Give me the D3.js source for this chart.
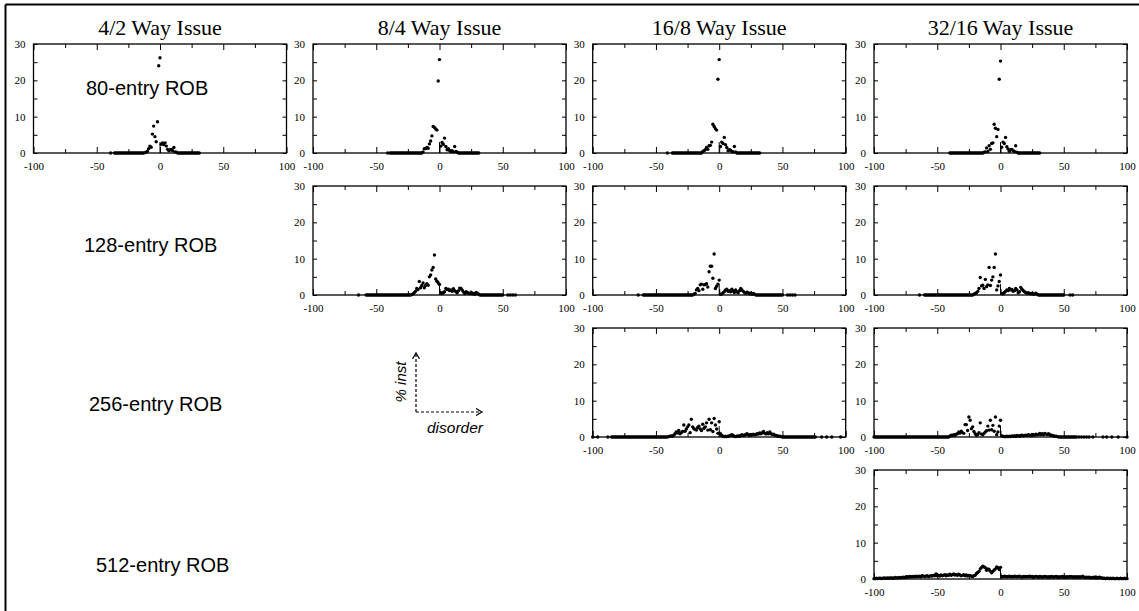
<!DOCTYPE html>
<html><head><meta charset="utf-8">
<script src="https://cdn.jsdelivr.net/npm/d3@7"></script>
<style>body{margin:0;background:#fff} svg{display:block}</style>
</head><body>
<svg id="c" width="1139" height="611"></svg>
<script>
// ---------- labels / ticks ----------
const titles = ["4/2 Way Issue", "8/4 Way Issue", "16/8 Way Issue", "32/16 Way Issue"];
const robLabels = ["80-entry ROB", "128-entry ROB", "256-entry ROB", "512-entry ROB"];
const xTicks = [-100, -75, -50, -25, 0, 25, 50, 75, 100];
const xLabels = [-100, -50, 0, 50, 100];
const yTicks = [0, 5, 10, 15, 20, 25, 30];
const yLabels = [0, 10, 20, 30];
const axisNote = ["% inst", "disorder"];

// ---------- data: % of instructions per disorder value (consecutive integers from start) ----------
const r1c1Start = -39;
const r1c1 = [0, null, null,
  0,0,0,0,0,0,0,0,0,0, 0,0,0,0,0,0,0,0,0,0, 0,0,0,0,0.1,
  0.2,0.5,1.2,1.9,1.6,5.2,7.4,4.5,3.1,8.6,
  24.0,26.2,
  2.4,2.8,2.3,2.8,1.9,1.0,0.6,0.9,1.0,0.6,
  1.5,0.3,0.2,
  0,0,0,0,0,0,0,0,0,0, 0,0,0,0,0,0,0,0];

const r1c2Start = -41;
const r1c2 = [0, null,
  0,0,0,0,0,0,0,0,0,0, 0,0,0,0,0,0,0,0,0,0, 0,0,0,0,0,0,
  0.3,1.2,1.2,1.5,1.3,2.5,3.3,4.7,7.3,7.0,6.6,6.3,
  19.8,25.7,
  1.9,2.9,2.4,4.1,1.8,0.9,1.2,0.7,0.4,0.6,
  0.3,1.8,0.4,0.2,
  0,0,0,0,0,0,0,0,0,0, 0,0,0,0,0,0,0];

const r1c3Start = -41;
const r1c3 = [0, null, null, null,
  0,0,0,0,0,0,0,0,0,0, 0,0,0,0,0,0,0,0,0,0, 0,0,0,0,
  0.4,0.6,0.9,1.5,1.0,2.0,2.1,3.0,7.9,7.3,6.7,6.3,
  20.3,25.7,
  1.8,3.0,2.6,4.3,2.3,1.5,0.6,0.9,0.8,0.4,
  0.3,1.8,0.3,
  0,0,0,0,0,0,0,0,0,0, 0,0,0,0,0,0,0,0,0];

const r1c4Start = -40;
const r1c4 = [
  0,0,0,0,0,0,0,0,0,0, 0,0,0,0,0,0,0,0,0,0, 0,0,0,0,0,0,0,
  0.2,0.3,1.4,0.4,2.0,1.0,2.6,2.8,7.9,6.8,4.5,6.5,
  20.3,25.3,
  1.6,3.0,2.6,4.3,1.7,1.1,0.5,0.9,1.0,0.6,
  0.4,2.0,0.2,
  0,0,0,0,0,0,0,0,0,0, 0,0,0,0,0,0,0,0];

const r2c2Start = -64;
const r2c2 = [0, null, null, null, null, null,
  0,0,0,0,0,0,0,0,0,0, 0,0,0,0,0,0,0,0,0,0, 0,0,0,0,0,0,0,0,0,0, 0,0,0,0,0,0,
  0.1,0.3,0.6,1.0,1.8,1.5,3.7,2.0,2.6,3.3,2.0,2.6,3.1,2.7,5.0,5.5,6.9,7.6,11.0,4.4,3.8,3.3,
  2.9,
  0.6,0.5,0.6,0.9,1.8,1.5,1.6,1.2,1.4,1.0,
  1.7,1.2,0.9,0.6,1.2,1.9,1.8,1.3,0.8,0.4,
  0.9,0.7,0.5,0.4,0.8,0.3,0.4,0.2,0.7,0.5,
  0.2,
  0,0,0,0,0,0,0,0,0,0, 0,0,0,0,0,0,0,0,0,
  null, null, null, 0, null, 0, null, 0, null, 0];

const r2c3Start = -64;
const r2c3 = [0, null, null, null,
  0,0,0,0,0,0,0,0,0,0, 0,0,0,0,0,0,0,0,0,0, 0,0,0,0,0,0,0,0,0,0, 0,0,0,0,0,0,0,0,0,0,
  0.2,0.4,1.4,1.8,1.2,2.8,3.0,1.6,2.8,2.9,3.1,2.2,6.4,7.9,7.9,4.6,11.3,1.8,2.4,3.0,
  4.1,
  0.2,0.3,0.6,0.9,1.4,1.6,1.0,1.2,0.9,1.6,
  1.1,0.7,1.4,0.9,0.6,1.2,1.8,1.4,1.0,0.7,
  0.5,0.8,0.6,0.3,0.5,0.2,0.4,0.2,
  0,0,0,0,0,0,0,0,0,0, 0,0,0,0,0,0,0,0,0,0, 0,0,
  null, null, null, 0, null, 0, null, 0, null, 0];

const r2c4Start = -64;
const r2c4 = [0, null, null, null,
  0,0,0,0,0,0,0,0,0,0, 0,0,0,0,0,0,0,0,0,0, 0,0,0,0,0,0,0,0,0,0, 0,0,0,0,0,0,0,0,0,
  0.2,0.4,0.6,1.0,1.8,4.8,2.5,2.7,1.8,4.3,2.3,2.8,7.6,2.6,4.1,5.0,7.6,11.3,1.4,2.5,3.7,
  5.5,
  0.5,0.3,0.6,1.0,1.4,1.2,1.8,1.4,1.5,1.0,
  1.2,1.8,1.4,0.6,0.9,2.1,1.6,1.2,0.9,0.7,
  0.5,0.6,0.4,0.3,0.5,0.2,0.3,0.5,0.2,
  0,0,0,0,0,0,0,0,0,0, 0,0,0,0,0,0,0,0,0,0, 0,
  null, null, null, null, 0, null, 0];

const r3c3Start = -100;
const r3c3 = [0, null, null, null, 0, null, null, null, null, null, null, null, 0, null, null,
  0,0,0,0,0,0,0,0,0,0, 0,0,0,0,0,0,0,0,0,0, 0,0,0,0,0,0,0,0,0,0, 0,0,0,0,0,0,0,0,0,0, 0,0,0,0,0,
  0.1,0.2,0.3,0.2,0.5,0.9,1.4,1.1,1.8,0.9,
  1.2,1.5,3.3,1.6,2.2,2.8,3.3,1.2,4.9,2.8,
  2.3,2.1,1.9,2.6,3.0,2.2,1.8,3.5,2.4,2.8,
  3.9,1.9,4.9,2.0,3.9,1.5,5.1,3.3,2.2,1.0,
  4.2,
  0.9,0.4,0.2,0.1,0.2,0.1,0.2,0.3,0.5,0.6,
  0.4,0.2,0.1,0.2,0.3,0.2,0.4,0.6,0.4,0.5,
  0.7,0.9,0.6,0.5,0.7,0.6,0.8,0.6,0.7,0.9,
  0.8,1.1,0.9,1.2,1.5,1.0,0.8,1.2,0.9,1.4,
  0.9,0.7,0.8,0.5,0.4,0.3,0.2,0.2,0.1,
  0,0,0,0,0,0,0,0,0,0, 0,0,0,0,0,0,0,0,0,0, 0,0,0,0,0,0,0,
  null, null, null, null, 0, null, null, null, 0, null, null, null, 0,
  null, null, null, null, null, null, 0];

const r3c4Start = -100;
const r3c4 = [
  0,0,0,0,0,0,0,0,0,0, 0,0,0,0,0,0,0,0,0,0, 0,0,0,0,0,0,0,0,0,0,
  0,0,0,0,0,0,0,0,0,0, 0,0,0,0,0,0,0,0,0,0, 0,0,0,0,0,0,0,0,0,0,
  0.2,0.5,0.4,0.6,0.5,0.8,0.9,1.4,1.1,1.6,
  1.2,1.0,3.4,3.4,1.8,5.5,4.6,2.3,2.8,1.5,
  0.9,0.5,0.7,1.2,3.9,0.8,0.6,1.0,1.4,1.7,
  3.0,1.9,4.6,2.0,3.2,1.6,5.5,0.6,1.4,3.0,
  4.6,
  0.3,0.2,0.1,0.1,0.2,0.1,0.2,0.1,0.3,0.2,
  0.3,0.2,0.4,0.3,0.2,0.4,0.5,0.3,0.4,0.5,
  0.4,0.6,0.5,0.4,0.7,0.6,0.5,0.8,0.6,0.7,
  1.0,0.7,0.9,0.6,1.0,0.8,0.7,0.9,0.6,0.5,
  0.4,0.3,0.2,0.2,0.1,
  0,0,0,0,0,0,0,0,0,0, 0,0,0,0,0,
  null, 0, null, 0, null, 0, null, 0, null, 0, null, null, 0,
  null, null, null, null, null, null, null, 0, null, null, 0,
  null, null, null, 0, null, null, null, null, 0,
  null, null, null, null, null, null, 0];

const r4c4Start = -100;
const r4c4 = [
  0.1,0.1,0.2,0.1,0.2,0.2,0.1,0.2,0.3,0.2,
  0.2,0.3,0.2,0.3,0.3,0.2,0.3,0.4,0.3,0.3,
  0.4,0.3,0.4,0.5,0.4,
  0.5,0.6,0.5,0.7,0.6,0.6,0.7,0.6,0.8,0.7,
  0.7,0.8,0.6,0.9,0.8,0.7,0.8,0.9,0.7,0.8,
  0.9,0.8,1.0,0.9,1.4,
  0.9,1.0,0.8,1.1,0.9,1.0,1.2,0.9,1.1,1.0,
  1.3,1.0,1.2,1.4,1.1,1.2,1.0,1.3,1.1,0.9,
  1.0,1.2,0.9,1.1,0.8,1.0,0.9,0.8,0.7,0.9,
  1.0,1.5,1.8,2.1,2.8,3.2,3.5,3.3,3.1,2.4,
  2.8,2.6,2.1,1.7,2.1,2.5,2.8,3.3,3.1,2.6,
  3.2,
  0.7,0.6,0.8,0.7,0.6,0.7,0.8,0.6,0.7,0.6,
  0.8,0.7,0.6,0.7,0.8,0.6,0.5,0.7,0.6,0.7,
  0.6,0.7,0.8,0.6,0.7,0.5,0.6,0.7,0.6,0.5,
  0.7,0.6,0.5,0.6,0.7,0.6,0.5,0.6,0.5,0.7,
  0.6,0.5,0.6,0.7,0.5,0.6,0.5,0.6,0.7,0.5,
  0.6,0.5,0.6,0.5,0.7,0.6,0.5,0.6,0.5,0.6,
  0.5,0.6,0.5,0.6,0.8,0.5,0.4,0.5,0.4,0.5,
  0.4,0.3,0.4,0.5,0.3,0.4,0.3,0.5,0.4,0.3,
  0.2,0.2,0.1,0.2,0.2,0.1,0.2,0.1,0.2,0.1,
  0.1,0.2,0.1,0.1,0.2,0.1,0.1,0.2,0.1,0.1];

const panels = [
  {row: 0, col: 0, start: r1c1Start, values: r1c1},
  {row: 0, col: 1, start: r1c2Start, values: r1c2},
  {row: 0, col: 2, start: r1c3Start, values: r1c3},
  {row: 0, col: 3, start: r1c4Start, values: r1c4},
  {row: 1, col: 1, start: r2c2Start, values: r2c2},
  {row: 1, col: 2, start: r2c3Start, values: r2c3},
  {row: 1, col: 3, start: r2c4Start, values: r2c4},
  {row: 2, col: 2, start: r3c3Start, values: r3c3},
  {row: 2, col: 3, start: r3c4Start, values: r3c4},
  {row: 3, col: 3, start: r4c4Start, values: r4c4}
];

// ---------- layout ----------
const colLeft = [33.5, 313, 592.7, 874];
const rowTop = [44, 186, 328, 470];
const W = 253, H = 109;
const svg = d3.select("#c");
const serif = "'Liberation Serif','Times New Roman',serif";
const sans = "'Liberation Sans',Arial,sans-serif";

// frame (top + left edges)
svg.append("line").attr("x1", 5.5).attr("x2", 1139).attr("y1", 4.5).attr("y2", 4.5)
  .attr("stroke", "#000").attr("stroke-width", 2);
svg.append("line").attr("x1", 5.5).attr("x2", 5.5).attr("y1", 4.5).attr("y2", 611)
  .attr("stroke", "#000").attr("stroke-width", 2);

const x = d3.scaleLinear().domain([-100, 100]).range([0, W]);
const y = d3.scaleLinear().domain([0, 30]).range([H, 0]);
const fmtX = d => xLabels.includes(d) ? String(d) : "";
const fmtY = d => yLabels.includes(d) ? String(d) : "";

function styleAxis(g) {
  g.select(".domain").remove();
  g.selectAll(".tick line").attr("stroke", "#000").attr("stroke-width", 1);
  g.selectAll("text").attr("font-family", serif).attr("font-size", 11).attr("fill", "#000");
  g.attr("font-family", null).attr("font-size", null);
}

panels.forEach(p => {
  const g = svg.append("g").attr("transform", `translate(${colLeft[p.col]},${rowTop[p.row]})`);
  // axes with inward ticks on all sides
  const gb = g.append("g").attr("transform", `translate(0,${H})`)
    .call(d3.axisBottom(x).tickValues(xTicks).tickSizeInner(-4).tickSizeOuter(0).tickPadding(9).tickFormat(fmtX));
  styleAxis(gb);
  gb.selectAll(".tick").filter(d => d % 50 === 0).select("line").attr("y2", -6);
  const gt = g.append("g")
    .call(d3.axisTop(x).tickValues(xTicks).tickSizeInner(-4).tickSizeOuter(0).tickFormat(""));
  styleAxis(gt);
  gt.selectAll(".tick").filter(d => d % 50 === 0).select("line").attr("y2", 6);
  const gl = g.append("g")
    .call(d3.axisLeft(y).tickValues(yTicks).tickSizeInner(-4).tickSizeOuter(0).tickPadding(8).tickFormat(fmtY));
  styleAxis(gl);
  const gr = g.append("g").attr("transform", `translate(${W},0)`)
    .call(d3.axisRight(y).tickValues(yTicks).tickSizeInner(-4).tickSizeOuter(0).tickFormat(""));
  styleAxis(gr);
  g.append("rect").attr("x", 0).attr("y", 0).attr("width", W).attr("height", H)
    .attr("fill", "none").attr("stroke", "#000").attr("stroke-width", 1.3);
  // zero marker
  g.append("line").attr("x1", x(0)).attr("x2", x(0)).attr("y1", y(0)).attr("y2", y(3))
    .attr("stroke", "#000").attr("stroke-width", 1);
  // points
  const pts = p.values.map((v, i) => ({xv: p.start + i, yv: v})).filter(d => d.yv !== null);
  g.selectAll("circle").data(pts).join("circle")
    .attr("cx", d => x(d.xv)).attr("cy", d => y(d.yv)).attr("r", 1.7).attr("fill", "#000");
});

// column titles
titles.forEach((t, i) => {
  svg.append("text").attr("x", colLeft[i] + W / 2).attr("y", 35).attr("text-anchor", "middle")
    .attr("font-family", serif).attr("font-size", 22).attr("fill", "#000").text(t);
});

// ROB labels
const robX = [86, 84, 89, 96];
const robY = [95, 252, 411, 572];
robLabels.forEach((t, i) => {
  svg.append("text").attr("x", robX[i]).attr("y", robY[i])
    .attr("font-family", sans).attr("font-size", 20).attr("fill", "#000").text(t);
});

// axis explanation arrows
const ax = svg.append("g").attr("stroke", "#000").attr("stroke-width", 1.2).attr("fill", "none");
ax.append("line").attr("x1", 416).attr("y1", 412).attr("x2", 416).attr("y2", 354).attr("stroke-dasharray", "3,2");
ax.append("polyline").attr("points", "412.5,359 416,353 419.5,359");
ax.append("line").attr("x1", 416).attr("y1", 412).attr("x2", 481).attr("y2", 412).attr("stroke-dasharray", "3,2");
ax.append("polyline").attr("points", "476,408.5 482,412 476,415.5");
svg.append("text").attr("transform", "translate(406,382) rotate(-90)").attr("text-anchor", "middle")
  .attr("font-family", sans).attr("font-style", "italic").attr("font-size", 15).attr("fill", "#000").text(axisNote[0]);
svg.append("text").attr("x", 455).attr("y", 433).attr("text-anchor", "middle")
  .attr("font-family", sans).attr("font-style", "italic").attr("font-size", 15.5).attr("fill", "#000").text(axisNote[1]);
</script>
</body></html>
